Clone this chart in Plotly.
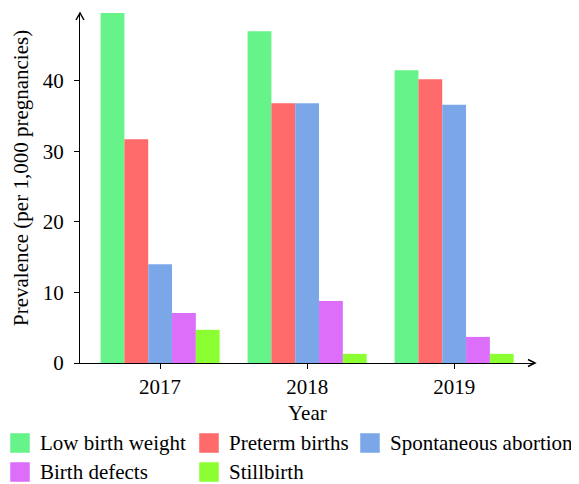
import plotly.graph_objects as go

years = ["2017", "2018", "2019"]
series_names = ["Low birth weight", "Preterm births", "Spontaneous abortion", "Birth defects", "Stillbirth"]
low_birth_weight = [49.6, 47.0, 41.5]
preterm_births = [31.7, 36.8, 40.2]
spontaneous_abortion = [14.0, 36.8, 36.6]
birth_defects = [7.1, 8.8, 3.7]
stillbirth = [4.7, 1.3, 1.3]
colors = ["#66F38A", "#FF6B6B", "#7BA7E8", "#DD6EFA", "#8CFF32"]
y_ticks = [0, 10, 20, 30, 40]

values = [low_birth_weight, preterm_births, spontaneous_abortion, birth_defects, stillbirth]

# page body has an 8px default margin; the figure is sized/offset to compensate
OFF = 8
W, H = 579 - OFF, 484 - OFF
ML, MR, MT, MB = 80 - OFF, 44, 13 - OFF, 121
PW, PH = W - ML - MR, H - MT - MB
FONT = "Liberation Serif, Times New Roman, serif"

fig = go.Figure()
for name, vals, col in zip(series_names, values, colors):
    fig.add_trace(go.Bar(x=years, y=vals, name=name, marker=dict(color=col, line=dict(width=0)),
                         showlegend=False))

def px2x(px):
    # px in page pixels
    return (px - OFF - ML) / PW

def px2y(py):
    return (H - MB - (py - OFF)) / PH

axis_font = dict(family=FONT, size=21, color="black")

# arrow heads
ay_path = "M {:.5f},{:.5f} L 0,1 L {:.5f},{:.5f}".format(-4 / PW, 1 - 7 / PH, 4 / PW, 1 - 7 / PH)
ax_path = "M {:.5f},{:.5f} L 1,0 L {:.5f},{:.5f}".format(1 - 7 / PW, 3.5 / PH, 1 - 7 / PW, -3.5 / PH)

shapes = [
    dict(type="path", xref="paper", yref="paper", path=ay_path,
         line=dict(color="black", width=1.5)),
    dict(type="path", xref="paper", yref="paper", path=ax_path,
         line=dict(color="black", width=1.5)),
]
annotations = [
    dict(text="Prevalence (per 1,000 pregnancies)", xref="paper", yref="paper",
         x=px2x(21), y=px2y(178), xanchor="center", yanchor="middle",
         textangle=-90, showarrow=False, font=axis_font),
    dict(text="Year", xref="paper", yref="paper", x=0.5, y=px2y(413),
         xanchor="center", yanchor="middle", showarrow=False, font=axis_font),
]

# legend laid out in columns (text start per column, row centres), page pixels
col_text_x = [39, 228, 389]
row_y = [443, 472]
for i, (name, col) in enumerate(zip(series_names, colors)):
    r, c = divmod(i, 3)
    tx, cy = col_text_x[c], row_y[r]
    sx0 = tx - 29
    shapes.append(dict(type="rect", xref="paper", yref="paper",
                       x0=px2x(sx0), x1=px2x(sx0 + 20), y0=px2y(cy + 10), y1=px2y(cy - 10),
                       fillcolor=col, line=dict(width=0.6, color="rgba(255,255,255,0.8)")))
    annotations.append(dict(text=name, xref="paper", yref="paper", x=px2x(tx), y=px2y(cy),
                            xanchor="left", yanchor="middle", showarrow=False, borderpad=0,
                            font=axis_font))

fig.update_layout(
    width=W, height=H, autosize=False,
    margin=dict(l=ML, r=MR, t=MT, b=MB, pad=0, autoexpand=False),
    paper_bgcolor="white", plot_bgcolor="white",
    font=axis_font, showlegend=False,
    barmode="group", bargap=0.19, bargroupgap=0,
    xaxis=dict(type="category", range=[-0.545, 2.55], showline=True, linecolor="black",
               linewidth=1.3, ticks="outside", ticklen=5, tickcolor="black", tickwidth=1.3,
               showgrid=False, zeroline=False, tickfont=axis_font, fixedrange=True),
    yaxis=dict(range=[0, 49.6], tickvals=y_ticks, showline=True, linecolor="black",
               linewidth=1.3, ticks="outside", ticklen=5, tickcolor="black", tickwidth=1.3,
               showgrid=False, zeroline=False, tickfont=axis_font, fixedrange=True,
               ticklabelstandoff=6),
    shapes=shapes,
    annotations=annotations,
)

fig.write_html("out.html")
